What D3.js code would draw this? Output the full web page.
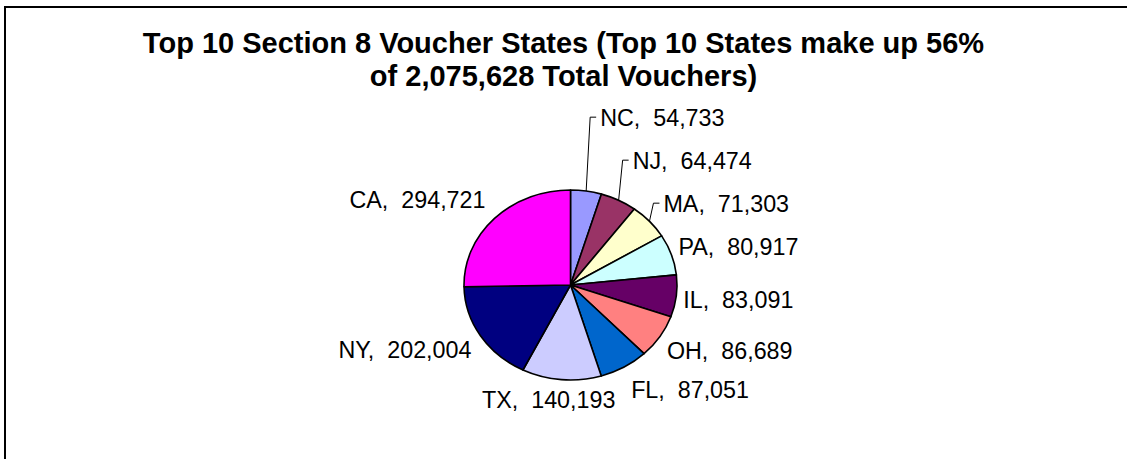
<!DOCTYPE html>
<html>
<head>
<meta charset="utf-8">
<script src="https://cdn.jsdelivr.net/npm/d3@7"></script>
<style>
  html, body { margin: 0; padding: 0; background: #fff; }
  svg { display: block; }
  text { font-family: "Liberation Sans", Arial, sans-serif; fill: #000; }
</style>
</head>
<body>
<svg id="chart" width="1127" height="459"></svg>
<script>
// ---- data ----
const states = ["NC", "NJ", "MA", "PA", "IL", "OH", "FL", "TX", "NY", "CA"];
const vouchers = [54733, 64474, 71303, 80917, 83091, 86689, 87051, 140193, 202004, 294721];
const titleLines = [
  "Top 10 Section 8 Voucher States (Top 10 States make up 56%",
  "of 2,075,628 Total Vouchers)"
];
const sliceColors = ["#9999FF", "#993366", "#FFFFCC", "#CCFFFF", "#660066",
                     "#FF8080", "#0066CC", "#CCCCFF", "#000080", "#FF00FF"];

// ---- layout ----
const W = 1127, H = 459;
const cx = 570.5, cy = 285, rx = 106.5, ry = 95;
const labelFont = 23.3;
const svg = d3.select("#chart");

svg.append("rect").attr("x", 5).attr("y", 7).attr("width", W + 50).attr("height", H + 50)
  .attr("fill", "#fff").attr("stroke", "#000").attr("stroke-width", 2);

const title = svg.append("text").attr("text-anchor", "middle")
  .attr("font-size", 29).attr("font-weight", "bold");
titleLines.forEach((t, i) => {
  title.append("tspan").attr("x", W / 2).attr("y", 53 + i * 33).text(t);
});

const pie = d3.pie().sort(null).value(d => d);
const arcs = pie(vouchers);
const arc = d3.arc().innerRadius(0).outerRadius(rx);

const pg = svg.append("g").attr("transform", `translate(${cx},${cy}) scale(1,${ry / rx})`);
pg.selectAll("path").data(arcs).join("path")
  .attr("d", arc)
  .attr("fill", (d, i) => sliceColors[i])
  .attr("stroke", "#000")
  .attr("stroke-width", 1.6)
  .attr("stroke-linejoin", "round")
  .attr("vector-effect", "non-scaling-stroke");

// ---- labels ----
const fmt = d3.format(",");
const labels = arcs.map((d, i) => {
  const a = (d.startAngle + d.endAngle) / 2;
  const s = Math.sin(a), c = Math.cos(a);
  const ex = cx + rx * s, ey = cy - ry * c;
  let anchor, x, center;
  if (s > 0.12) { anchor = "start"; x = ex + 7; center = ey - 26.5 * c; }
  else if (s < -0.12) { anchor = "end"; x = ex - 9; center = ey - 26.5 * c; }
  else { anchor = "middle"; x = ex + s * 150; center = ey - 20 * c; }
  return { i, a, ex, ey, anchor, x, center, moved: false,
           text: `${states[i]},  ${fmt(vouchers[i])}` };
});

// stack crowded upper-right labels above each other with leader lines
const upperRight = labels.filter(l => l.anchor === "start" && l.a < Math.PI / 2)
  .sort((p, q) => q.a - p.a);
const spacing = 43;
for (let k = 1; k < upperRight.length; k++) {
  const prev = upperRight[k - 1], cur = upperRight[k];
  if (cur.center > prev.center - spacing) {
    cur.center = prev.center - spacing;
    cur.moved = true;
    cur.x += 7;
  }
}

const lg = svg.append("g");
labels.filter(l => l.moved).forEach(l => {
  lg.append("polyline")
    .attr("points", `${l.ex},${l.ey} ${l.x - 10},${l.center} ${l.x - 4},${l.center}`)
    .attr("fill", "none").attr("stroke", "#000").attr("stroke-width", 1);
});
lg.selectAll("text").data(labels).join("text")
  .attr("x", d => d.x)
  .attr("y", d => d.center + 0.716 * labelFont / 2)
  .attr("text-anchor", d => d.anchor)
  .attr("font-size", labelFont)
  .style("white-space", "pre")
  .text(d => d.text);
</script>
</body>
</html>
